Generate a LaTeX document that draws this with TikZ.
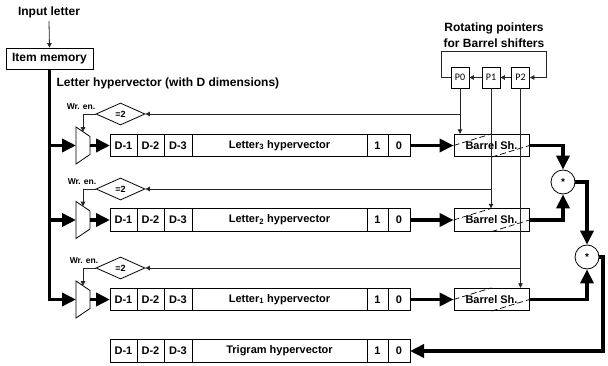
\documentclass[tikz,border=0pt]{standalone}
\usepackage{fontspec}
\setmainfont{Liberation Sans}
\newfontfamily\calfont{Carlito}
\usetikzlibrary{shapes.geometric,arrows.meta,calc}

\newcommand\regrow[3]{%
  \node[cell, minimum width=27pt, anchor=west] (#1d1) at (110,#2) {D-1};
  \node[cell, minimum width=27pt, anchor=west] (#1d2) at (#1d1.east) {D-2};
  \node[cell, minimum width=28pt, anchor=west] (#1d3) at (#1d2.east) {D-3};
  \node[cell, minimum width=175pt, anchor=west] (#1m) at (#1d3.east) {#3};
  \node[cell, minimum width=21pt, anchor=west] (#1one) at (#1m.east) {1};
  \node[cell, minimum width=22pt, anchor=west] (#1zero) at (#1one.east) {0};
}
\newcommand\muxat[2]{%
  \draw[thinline] (76,#2-18.5) -- (90,#2-9) -- (90,#2+9) -- (76,#2+18.5) -- cycle;
  \coordinate (#1mw) at (76,#2);
  \coordinate (#1me) at (90,#2);
  \coordinate (#1mt) at (83,#2-13.75);
}

\begin{document}
\begin{tikzpicture}[x=1pt,y=-1pt,
  lbl/.style={font=\fontsize{12}{16}\selectfont\bfseries},
  cell/.style={draw, line width=0.8pt, outer sep=0pt, inner sep=0pt, minimum height=22.5pt, font=\fontsize{11}{13}\selectfont\bfseries},
  thinline/.style={line width=0.8pt},
  conn/.style={line width=0.8pt, draw=black!85, -{Triangle[length=4.5pt,width=4.5pt]}},
  bus/.style={line width=3.8pt, -{Triangle[length=14pt,width=13pt]}},
  busline/.style={line width=3.8pt},
  cmp/.style={diamond, draw, line width=0.8pt, minimum width=49pt, minimum height=22pt, inner sep=0pt, font=\fontsize{9}{11}\selectfont\bfseries},
  wren/.style={font=\fontsize{8.5}{10}\selectfont\bfseries},
  ptr/.style={draw, line width=0.8pt, minimum width=18pt, minimum height=21pt, inner sep=0pt, font=\fontsize{10}{12}\selectfont\calfont},
  barrel/.style={draw, line width=0.8pt, minimum width=75pt, minimum height=22.5pt, inner sep=0pt, font=\fontsize{11}{13}\selectfont\bfseries},
  slash/.style={dashed, dash pattern=on 6pt off 3pt, line width=0.7pt},
  mult/.style={draw, circle, line width=0.8pt, minimum size=24pt, inner sep=0pt, font=\fontsize{10}{12}\selectfont\bfseries}
]
\useasboundingbox (0,0) rectangle (608,366);

% inputs
\node[lbl] (inp) at (49,12) {Input letter};
\node[draw, line width=0.8pt, minimum width=87pt, minimum height=21pt, inner sep=0pt, lbl] (im) at (49.5,58.5) {Item memory};
\draw[conn] (inp.south) -- (im.north);
\node[lbl, anchor=west] (lhv) at (53,83) {Letter hypervector (with D dimensions)};

% rotating pointers
\node[lbl, align=center] (rot) at (494,35) {Rotating pointers\\for Barrel shifters};
\node[ptr] (P0) at (460,77.5) {P0};
\node[ptr] (P1) at (491,77.5) {P1};
\node[ptr] (P2) at (520.5,77.5) {P2};
\coordinate (loopL) at (441,51);
\coordinate (loopR) at (546,51);
\draw[conn] (P0.west) -| (loopL) -| (loopR |- P2.east) -- (P2.east);
\draw[conn] (P2.west) -- (P1.east);
\draw[conn] (P1.west) -- (P0.east);

% rows
\regrow{ra}{145.5}{Letter\textsubscript{3} hypervector}
\regrow{rb}{220}{Letter\textsubscript{2} hypervector}
\regrow{rc}{299.5}{Letter\textsubscript{1} hypervector}
\regrow{rt}{351}{Trigram hypervector}

\muxat{ra}{145.5}
\muxat{rb}{220}
\muxat{rc}{299.5}

\node[cmp] (da) at (120.5,114) {=2};
\node[cmp] (db) at (120.5,189) {=2};
\node[cmp] (dc) at (120.5,268) {=2};
\node[wren] (wa) at (81,107) {Wr. en.};
\node[wren] (wb) at (82,182) {Wr. en.};
\node[wren] (wc) at (84,261) {Wr. en.};
\draw[conn] (da.west) -| (ramt);
\draw[conn] (db.west) -| (rbmt);
\draw[conn] (dc.west) -| (rcmt);

% barrel shifters
\node[barrel] (ba) at (491.5,145.5) {};
\node[barrel] (bb) at (491.5,220) {};
\node[barrel] (bc) at (491.5,299.5) {};
\foreach \b in {ba,bb,bc}{
  \draw[slash] (\b.west) -- (\b.north);
  \draw[slash] (\b.south) -- (\b.east);
  \node[font=\fontsize{11}{13}\selectfont\bfseries] at (\b.center) {Barrel Sh.};
}

% pointer connections
\draw[conn] (P0.south) -- (P0.south |- ba.north);
\draw[conn] (P0.south |- da.east) -- (da.east);
\draw[conn] (P1.south) -- (P1.south |- bb.north);
\draw[conn] (P1.south |- db.east) -- (db.east);
\draw[conn] (P2.south) -- (P2.south |- bc.north);
\draw[conn] (P2.south |- dc.east) -- (dc.east);

% bus
\draw[busline] (im.south) -- (im.south |- rcmw);
\draw[bus] (im.south |- ramw) -- (ramw);
\draw[bus] (im.south |- rbmw) -- (rbmw);
\draw[bus] ([xshift=-1.9pt]im.south |- rcmw) -- (rcmw);
\draw[bus] (rame) -- (rad1.west);
\draw[bus] (rbme) -- (rbd1.west);
\draw[bus] (rcme) -- (rcd1.west);
\draw[bus] (razero.east) -- (ba.west);
\draw[bus] (rbzero.east) -- (bb.west);
\draw[bus] (rczero.east) -- (bc.west);

% multipliers
\node[mult] (ca) at (563,182) {*};
\node[mult] (cb) at (587,257) {*};
\coordinate (outR) at (603,257);
\draw[bus] (ba.east) -| (ca.north);
\draw[bus] (bb.east) -| (ca.south);
\draw[bus] (ca.east) -| (cb.north);
\draw[bus] (bc.east) -| (cb.south);
\draw[bus] (cb.east) -- (outR) |- (rtzero.east);
\end{tikzpicture}
\end{document}
